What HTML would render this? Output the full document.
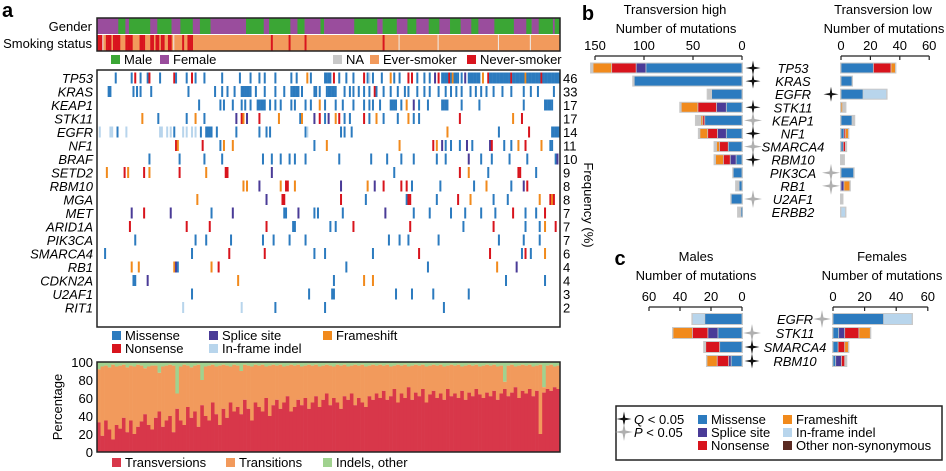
<!DOCTYPE html>
<html><head><meta charset="utf-8"><style>
body{margin:0;background:#fff}
svg{display:block;font-family:"Liberation Sans",sans-serif}
</style></head><body>
<svg id="fig" width="946" height="471" viewBox="0 0 946 471" xmlns="http://www.w3.org/2000/svg">
<g id="pa"></g>
<g id="pb"></g>
<g id="pc"></g>
</svg>
<script>
// ---------- Panel a data ----------
const genes = ["TP53","KRAS","KEAP1","STK11","EGFR","NF1","BRAF","SETD2","RBM10","MGA","MET","ARID1A","PIK3CA","SMARCA4","RB1","CDKN2A","U2AF1","RIT1"];
const freqs = [46,33,17,17,14,11,10,9,8,8,7,7,7,6,4,4,3,2];
const mutTP53 = ["10","19","21N","24","28","29N","35","43N","44","50","53N","55","60","70","80","86","91","94","100","109","112","118F","120","128-131","133N","136","140","144","150N","152","153I","155","160","165F","167","170","175N","177N","180","184","187","190S","192N","194-197","198N","199","200F","201-203","205","207S","209-215","217F","220N","221-232","233N","234-240","241F","242-249","250N","251-260"];
const mutKRAS = ["6","7","20","22","24","30","51","66","70","73","77","81","82-86","89","94","100","105","109-113","115","122","123","125","129-134","139","142","144","147","150","153","156N","157","161","165","169","173","175","180","184","187","192","196","199","202","205","210","213","216","219","223","228","233","240","244","248","257"];
const mutKEAP1 = ["57","69","71","76","81","83","86","90-93","94","97","100","103","109","111","117","120","125F","128","134","138","144","150","153","155","159","165-168","171","174F","178S","181","186","194-197","205","215","240","252-256"];
const mutSTK11 = ["25F","34","50","55F","60","78S","81N","82F","84S","91N","102F","114","115F","122S","125N","128","130S","134F","136N","139","142","150N","153","157F","161","169","175F","178","181","204N","234F","239N"];
const mutEGFR = ["1I","7I","8I","11","16I","35I","36I","39I","41I","43","48I","50I","53I","55I","58","61-64","67","78","91","95","97","117","118I","137","139","143","197F","226","243N","256-260"];
const mutNF1 = ["44N","45F","59N","69","71F","76F","122","129F","170F","189N","191F","194S","196","199","204","208S","211","221S","222N","229","233","237F","241N","250F","255","256"];
const mutBRAF = ["29","46","60","70","93","98","103","108","111","117","136","154","163","171","178","191","196","209S","216","222","232","242","258","259S"];
const mutSETD2 = ["5F","15N","17F","26N","29F","46N","61F","72N","73N","98S","167","204N","209F","220","237N","238N","247"];
const mutRBM10 = ["82F","84F","91S","103F","106N","107N","111F","137S","152F","156S","161N","171N","174N","177","193","212","219F","233","240S","242N"];
const mutMGA = ["56F","95S","104N","105N","137N","151","174","175N","176N","191","203N","210F","223","231","249F","255N","256F","257N"];
const mutMET = ["19S","26N","41S","64","76S","105","106","113S","122","124","138","162S","178","187","199","207","216","224","234N","241","247","252N"];
const mutARID1A = ["18N","50N","63N","95N","110","111","131","134","144N","176N","206","223N","241","249","252F","258N"];
const mutPIK3CA = ["21","55","61","75","93","99","108","117","164","170","175","192","226","240","249"];
const mutSMARCA4 = ["4","53","74N","94N","122","128","155","181N","221N","239","241N","244","252F"];
const mutRB1 = ["19F","23F","43F","44S","45","64F","68N","140","186","225F","236S"];
const mutCDKN2A = ["20","21","28S","79F","133","150F","155F","230","252"];
const mutU2AF1 = ["53","119","132","133","168","177","189","209"];
const mutRIT1 = ["48I","81I","100","128","195"];
const mutLists = [mutTP53,mutKRAS,mutKEAP1,mutSTK11,mutEGFR,mutNF1,mutBRAF,mutSETD2,mutRBM10,mutMGA,mutMET,mutARID1A,mutPIK3CA,mutSMARCA4,mutRB1,mutCDKN2A,mutU2AF1,mutRIT1];
const nSamples = 261;
const genderStarts = [0,12,16,18,30,34,42,47,54,58,64,84,94,97,109,113,117,126,128,145,158,161,169,175,180,187,193,199,205,211,215,224,235,242,245,249,257,258];
const genderFirst = "F";
const neverSmoker = [0,1,2,5,6,7,9,10,11,12,16,17,18,19,24,25,26,30,31,33,34,36,37,40,41,48,51,52,53,98,108,117,161];
const naSmoker = [3,43,170,192,226,244];
// stacked percentage chart (130 bars)
const transv = [33,18,35,25,14,30,26,38,22,35,20,28,34,42,30,25,38,45,28,35,
40,22,48,35,30,50,38,45,28,52,40,35,55,42,30,48,38,55,45,50,
42,58,48,35,55,50,45,60,40,52,58,48,55,62,45,50,58,52,60,48,
55,62,50,58,65,52,60,55,48,62,58,65,52,60,55,50,62,58,65,60,
68,58,62,70,55,65,60,72,58,66,62,70,55,64,68,60,65,58,70,62,
65,60,68,58,66,62,70,64,60,66,62,68,58,65,70,62,66,72,60,68,
65,70,62,68,20,66,70,68,72,70];
const indels = [8,5,4,6,3,5,4,3,6,4,5,3,4,7,5,4,4,12,5,4,
3,4,35,5,3,4,6,4,3,20,5,4,3,5,4,3,4,5,3,4,
10,3,4,5,3,4,3,5,4,3,4,3,5,4,3,4,3,5,4,3,
4,3,5,4,3,4,5,3,4,3,5,4,3,4,3,5,4,3,4,3,
4,3,5,4,3,4,3,5,4,3,4,3,5,4,3,4,3,5,4,3,
4,3,5,4,3,4,3,5,4,3,4,3,5,4,22,4,3,5,4,3,
4,3,5,4,3,28,4,3,5,4];
const pctTicks = [0,20,40,60,80,100];
// ---------- Panel b data ----------
const genesB = ["TP53","KRAS","EGFR","STK11","KEAP1","NF1","SMARCA4","RBM10","PIK3CA","RB1","U2AF1","ERBB2"];
const hiMis = [98,110,31,16,38,16,14,6,9,3,11,1];
const hiSpl = [10,0,0,10,0,9,0,6,0,0,0,0];
const hiNon = [25,0,0,19,2,10,9,7,0,0,0,0];
const hiFs  = [19,0,0,17,2,8,3,8,0,0,0,0];
const hiInf = [0,0,0,0,0,0,0,0,0,0,0,0];
const hiOth = [2,1,4,1,5,1,2,1,0,3,0,3];
const loMis = [22,7.5,15,0,7.5,2,1.5,0,8.6,0,0,0];
const loSpl = [0,0,0,0,0,0,0,0,0,2,0,0];
const loNon = [12,0,0,0,0,1,1.5,0,0,0,0,0];
const loFs  = [3,0,0,1,0,2,0,0,0,4,0,0];
const loInf = [0,0,16,0,0,0,0,0,0,0,0,3];
const loOth = [0,0,0,2,1.5,0,0.5,2,0,0,1,0];
const starsB = ["Q","Q","Q","Q","P","Q","P","Q","P","P","P",""];
const starSideB = ["L","L","R","L","L","L","L","L","R","R","L",""];
const ticksHi = [150,100,50,0];
const ticksLo = [0,20,40,60];
// ---------- Panel c data ----------
const genesC = ["EGFR","STK11","SMARCA4","RBM10"];
const mMis = [24,15.5,14.4,7];
const mSpl = [0,6.5,0,1.6];
const mNon = [0,10,9,7.4];
const mFs  = [0,12.5,0,6.6];
const mInf = [8,0,0,0];
const mOth = [0,0,1,0];
const fMis = [32,3.6,3.2,1.7];
const fSpl = [0,3.8,0,3.6];
const fNon = [0,9,4.2,2.1];
const fFs  = [0,7.2,2.3,0];
const fInf = [18,0,0,0];
const fOth = [0,0,0,1];
const starsC = ["P","P","Q","Q"];
const starSideC = ["R","L","L","L"];
const ticksC = [0,20,40,60];

// ---------- helpers ----------
const NS="http://www.w3.org/2000/svg";
const COL={M:"#2c7bbf",S:"#4a3b97",N:"#d8141d",F:"#f18a1c",I:"#b8d5ec",O:"#c6c6c6"};
const FS=13;
function mk(parent,tag,attrs,text){const e=document.createElementNS(NS,tag);for(const k in attrs)e.setAttribute(k,attrs[k]);if(text!==undefined)e.textContent=text;parent.appendChild(e);return e;}
const pa=document.getElementById('pa'),pb=document.getElementById('pb'),pc=document.getElementById('pc');
function starPath(cx,cy,r){const a=r*0.16;return `M${cx},${cy-r}L${cx+a},${cy-a}L${cx+r},${cy}L${cx+a},${cy+a}L${cx},${cy+r}L${cx-a},${cy+a}L${cx-r},${cy}L${cx-a},${cy-a}Z`;}

// ---------- Panel a ----------
const X0=97,X1=560;
const sx=i=>X0+i*(X1-X0)/nSamples;
let t=mk(pa,'text',{x:2,y:17,'font-size':20,'font-weight':'bold'},'a');


t=mk(pa,'text',{x:92,y:31,'font-size':FS,'text-anchor':'end'},'Gender');


t=mk(pa,'text',{x:92,y:48,'font-size':FS,'text-anchor':'end'},'Smoking status');


for(let k=0;k<genderStarts.length;k++){
  const s=genderStarts[k],e=k+1<genderStarts.length?genderStarts[k+1]:nSamples;
  const g=(k%2===0)?genderFirst:(genderFirst==="F"?"M":"F");
  const r=mk(pa,'rect',{x:sx(s),y:18,width:sx(e)-sx(s)+0.3,height:16,fill:g==="M"?"#3ba635":"#9a4d9d"});
  
  
}
let r0=mk(pa,'rect',{x:X0,y:35,width:X1-X0,height:16,fill:"#f29a5c"});


neverSmoker.forEach(i=>{const r=mk(pa,'rect',{x:sx(i),y:35,width:(X1-X0)/nSamples+0.2,height:16,fill:"#d9141e"});
  
  });
naSmoker.forEach(i=>{const r=mk(pa,'rect',{x:sx(i),y:35,width:1,height:16,fill:"#eeeeee"});
  
  });
r0=mk(pa,'rect',{x:X0,y:18,width:X1-X0,height:33,fill:"none",stroke:"#222","stroke-width":1.5});


function legendSq(parent,x,y,color,label,name){
  const r=mk(parent,'rect',{x:x,y:y-9,width:9,height:9,fill:color});
  
  
  const tx=mk(parent,'text',{x:x+13,y:y,'font-size':FS},label);
  
  
}
legendSq(pa,111,64,"#3ba635","Male","male");
legendSq(pa,160,64,"#9a4d9d","Female","female");
legendSq(pa,333,64,"#c8c8c8","NA","na");
legendSq(pa,370,64,"#f29a5c","Ever-smoker","ever-smoker");
legendSq(pa,467,64,"#d9141e","Never-smoker","never-smoker");
const rowY=i=>78+i*13.5;
genes.forEach((g,i)=>{
  const tx=mk(pa,'text',{x:93,y:rowY(i)+5,'font-size':FS,'font-style':'italic','text-anchor':'end'},g);
  
  
  const fx=mk(pa,'text',{x:563,y:rowY(i)+5,'font-size':FS},String(freqs[i]));
  
  
  mutLists[i].forEach(tok=>{
    const m=tok.match(/^(\d+)(?:-(\d+))?([A-Z]?)$/);
    const a=+m[1],b=m[2]?+m[2]:a,type=m[3]||"M";
    for(let s=a;s<=b;s++){
      const r=mk(pa,'rect',{x:sx(s),y:rowY(i)-5.5,width:2,height:11,fill:COL[type]});
      
      
    }
  });
});
r0=mk(pa,'rect',{x:X0,y:70,width:X1-X0,height:257,fill:"none",stroke:"#222","stroke-width":1.5});


t=mk(pa,'text',{x:0,y:0,'font-size':FS,'text-anchor':'middle',transform:'translate(584,205) rotate(90)'},'Frequency (%)');


legendSq(pa,112,340,COL.M,"Missense","missense");
legendSq(pa,209,340,COL.S,"Splice site","splice-site");
legendSq(pa,323,340,COL.F,"Frameshift","frameshift");
legendSq(pa,112,353,COL.N,"Nonsense","nonsense");
legendSq(pa,209,353,COL.I,"In-frame indel","in-frame-indel");
const PY0=452,PY1=362;
const py=v=>PY0-(PY0-PY1)*v/100;
const bw=(X1-X0)/transv.length;
transv.forEach((v,i)=>{
  const x=X0+i*bw, ind=indels[i];
  let r=mk(pa,'rect',{x:x,y:py(100),width:bw+0.3,height:py(100-ind)-py(100),fill:"#a0d28f"});
  
  
  r=mk(pa,'rect',{x:x,y:py(100-ind),width:bw+0.3,height:py(v)-py(100-ind),fill:"#f29a5c"});
  
  
  r=mk(pa,'rect',{x:x,y:py(v),width:bw+0.3,height:PY0-py(v),fill:"#d8374a"});
  
  
});
r0=mk(pa,'rect',{x:X0,y:PY1,width:X1-X0,height:PY0-PY1,fill:"none",stroke:"#222","stroke-width":1.5});


pctTicks.forEach(v=>{
  const tx=mk(pa,'text',{x:93,y:py(v)+5,'font-size':FS,'text-anchor':'end'},String(v));
  
  
});
t=mk(pa,'text',{x:0,y:0,'font-size':FS,'text-anchor':'middle',transform:'translate(62,407) rotate(-90)'},'Percentage');


legendSq(pa,112,467,"#d8374a","Transversions","transversions");
legendSq(pa,226,467,"#f29a5c","Transitions","transitions");
legendSq(pa,323,467,"#a0d28f","Indels, other","indels-other");

function hbar(parent,vals,zeroX,scale,dir,y,h,name){
  const cols=[COL.M,COL.S,COL.N,COL.F,COL.I,COL.O];
  const total=vals.reduce((a,b)=>a+b,0);
  if(total<=0)return;
  const bg=mk(parent,'rect',{x:dir>0?zeroX-1:zeroX-total*scale-1,y:y-h/2-1,width:total*scale+2,height:h+2,fill:"#c9c9c9"});
  
  
  let acc=0;
  vals.forEach((v,k)=>{
    if(v<=0)return;
    const x=dir>0?zeroX+acc*scale:zeroX-(acc+v)*scale;
    const r=mk(parent,'rect',{x:x+0.4,y:y-h/2,width:Math.max(v*scale-0.8,0.8),height:h,fill:cols[k]});
    
    
    acc+=v;
  });
}
function axis(parent,ticks,fx,y,name){
  const xs=ticks.map(fx);
  const l=mk(parent,'line',{x1:Math.min(...xs),x2:Math.max(...xs),y1:y,y2:y,stroke:"#222","stroke-width":1.2});
  
  
  ticks.forEach(v=>{
    const tk=mk(parent,'line',{x1:fx(v),x2:fx(v),y1:y,y2:y+4,stroke:"#222","stroke-width":1.2});
    
    
    const tx=mk(parent,'text',{x:fx(v),y:y-6,'font-size':FS,'text-anchor':'middle'},String(v));
    
    
  });
}
function star(parent,cx,cy,kind){
  if(!kind)return;
  const p=mk(parent,'path',{d:starPath(cx,cy,kind==="Q"?7.5:9),fill:kind==="Q"?"#111":"#b0b0b0"});
  
  
}
function txt(parent,x,y,s,str,name,extra){
  const o=Object.assign({x:x,y:y,'font-size':s,'text-anchor':'middle'},extra||{});
  const e=mk(parent,'text',o,str);
  
  
  return e;
}

// ---------- Panel b ----------
txt(pb,588,20,20,'b','panel-b-label',{'font-weight':'bold'});
txt(pb,675,14,FS,'Transversion high','transversion-high-title');
txt(pb,676,33,FS,'Number of mutations','high-x-axis-title');
txt(pb,883,14,FS,'Transversion low','transversion-low-title');
txt(pb,884,33,FS,'Number of mutations','low-x-axis-title');
const hx=v=>742-v*0.98, lx=v=>841+v*1.47;
axis(pb,ticksHi,hx,56,'high-x-axis');
axis(pb,ticksLo,lx,56,'low-x-axis');
const rowB=i=>68+i*13.1;
genesB.forEach((g,i)=>{
  hbar(pb,[hiMis[i],hiSpl[i],hiNon[i],hiFs[i],hiInf[i],hiOth[i]],742,0.98,-1,rowB(i),9,'high-bar-'+g.toLowerCase());
  hbar(pb,[loMis[i],loSpl[i],loNon[i],loFs[i],loInf[i],loOth[i]],841,1.47,1,rowB(i),9,'low-bar-'+g.toLowerCase());
  txt(pb,793,rowB(i)+5,FS,g,'gene-label-b-'+g.toLowerCase(),{'font-style':'italic'});
  star(pb,starSideB[i]==="L"?753:831,rowB(i),starsB[i]);
});

// ---------- Panel c ----------
txt(pc,620,265,20,'c','panel-c-label',{'font-weight':'bold'});
txt(pc,696,261,FS,'Males','males-title');
txt(pc,696,280,FS,'Number of mutations','males-x-axis-title');
txt(pc,882,261,FS,'Females','females-title');
txt(pc,882,280,FS,'Number of mutations','females-x-axis-title');
const mx=v=>742-v*1.55, fx=v=>833+v*1.58;
axis(pc,ticksC,mx,307,'males-x-axis');
axis(pc,ticksC,fx,307,'females-x-axis');
const rowC=i=>319+i*14;
genesC.forEach((g,i)=>{
  hbar(pc,[mMis[i],mSpl[i],mNon[i],mFs[i],mInf[i],mOth[i]],742,1.55,-1,rowC(i),10,'male-bar-'+g.toLowerCase());
  hbar(pc,[fMis[i],fSpl[i],fNon[i],fFs[i],fInf[i],fOth[i]],833,1.58,1,rowC(i),10,'female-bar-'+g.toLowerCase());
  txt(pc,795,rowC(i)+5,FS,g,'gene-label-c-'+g.toLowerCase(),{'font-style':'italic'});
  star(pc,starSideC[i]==="L"?752:822,rowC(i),starsC[i]);
});
const lg=mk(pc,'g',{});


const lb=mk(lg,'rect',{x:616,y:406,width:326,height:54,fill:"none",stroke:"#222","stroke-width":1.5});


star(lg,624,419,"Q");
star(lg,624,432,"P");
const q=mk(lg,'text',{x:634,y:424,'font-size':FS});


q.innerHTML='<tspan font-style="italic">Q</tspan> &lt; 0.05';
const p=mk(lg,'text',{x:634,y:437,'font-size':FS});


p.innerHTML='<tspan font-style="italic">P</tspan> &lt; 0.05';
legendSq(lg,698,424,COL.M,"Missense","legend-missense");
legendSq(lg,698,437,COL.S,"Splice site","legend-splice");
legendSq(lg,698,450,COL.N,"Nonsense","legend-nonsense");
legendSq(lg,783,424,COL.F,"Frameshift","legend-frameshift");
legendSq(lg,783,437,COL.I,"In-frame indel","legend-inframe");
legendSq(lg,783,450,"#5a2a22","Other non-synonymous","legend-other");
</script>
</body></html>
